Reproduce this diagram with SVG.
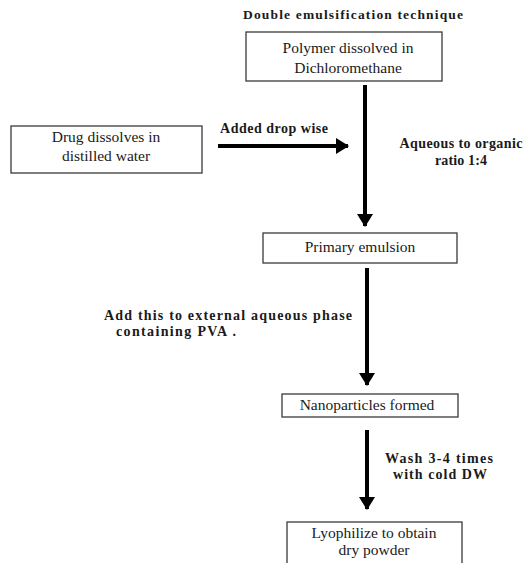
<svg xmlns="http://www.w3.org/2000/svg" width="531" height="563" viewBox="0 0 531 563">
<style>
.box{fill:#fff;stroke:#3a3a3a;stroke-width:1.3}
.t{font-size:15.5px;fill:#1a1a1a;text-anchor:middle}
.b{font-size:14px;font-weight:bold;fill:#1a1a1a}
.c{text-anchor:middle}
.ln{stroke:#000;stroke-width:4;fill:none}
</style>
<defs>
<marker id="ah" markerUnits="userSpaceOnUse" markerWidth="14" markerHeight="16" refX="12" refY="8" orient="auto">
<path d="M0,0 L13,8 L0,16 Z" fill="#000"/>
</marker>
</defs>
<rect width="531" height="563" fill="#fff"/>
<g font-family="Liberation Serif, 'Times New Roman', serif">
<text class="b c" x="353" y="19" style="font-size:13.5px" textLength="220" lengthAdjust="spacing">Double emulsification technique</text>
<g id="connectors">
<line class="ln" x1="365" y1="85" x2="365" y2="226" marker-end="url(#ah)"/>
<line class="ln" x1="218" y1="146" x2="348" y2="146" marker-end="url(#ah)"/>
<line class="ln" x1="367" y1="268" x2="367" y2="385" marker-end="url(#ah)"/>
<line class="ln" x1="367" y1="430" x2="367" y2="509" marker-end="url(#ah)"/>
<text class="b" x="220" y="133" textLength="108" lengthAdjust="spacing">Added drop wise</text>
<text class="b c" x="461" y="148" textLength="123" lengthAdjust="spacing">Aqueous to organic</text>
<text class="b c" x="461" y="165" textLength="52" lengthAdjust="spacing">ratio 1:4</text>
<text class="b" x="104" y="320" textLength="248" lengthAdjust="spacing">Add this to external aqueous phase</text>
<text class="b" x="116" y="336" textLength="120" lengthAdjust="spacing">containing PVA .</text>
<text class="b c" x="439" y="463" textLength="108" lengthAdjust="spacing">Wash 3-4 times</text>
<text class="b c" x="440" y="479" textLength="94" lengthAdjust="spacing">with cold DW</text>
</g>
<g id="n1">
<rect class="box" x="246" y="32" width="196" height="49"/>
<text class="t" x="348" y="53">Polymer dissolved in</text>
<text class="t" x="348" y="73">Dichloromethane</text>
</g>
<g id="n2">
<rect class="box" x="11" y="126" width="191" height="47"/>
<text class="t" x="106" y="142">Drug dissolves in</text>
<text class="t" x="106" y="161">distilled water</text>
</g>
<g id="n3">
<rect class="box" x="263" y="233" width="194" height="30"/>
<text class="t" x="360" y="252">Primary emulsion</text>
</g>
<g id="n4">
<rect class="box" x="282" y="394" width="176" height="23"/>
<text class="t" x="367" y="410">Nanoparticles formed</text>
</g>
<g id="n5">
<rect class="box" x="287" y="522" width="175" height="45"/>
<text class="t" x="374" y="538">Lyophilize to obtain</text>
<text class="t" x="374" y="555">dry powder</text>
</g>
</g>
</svg>
